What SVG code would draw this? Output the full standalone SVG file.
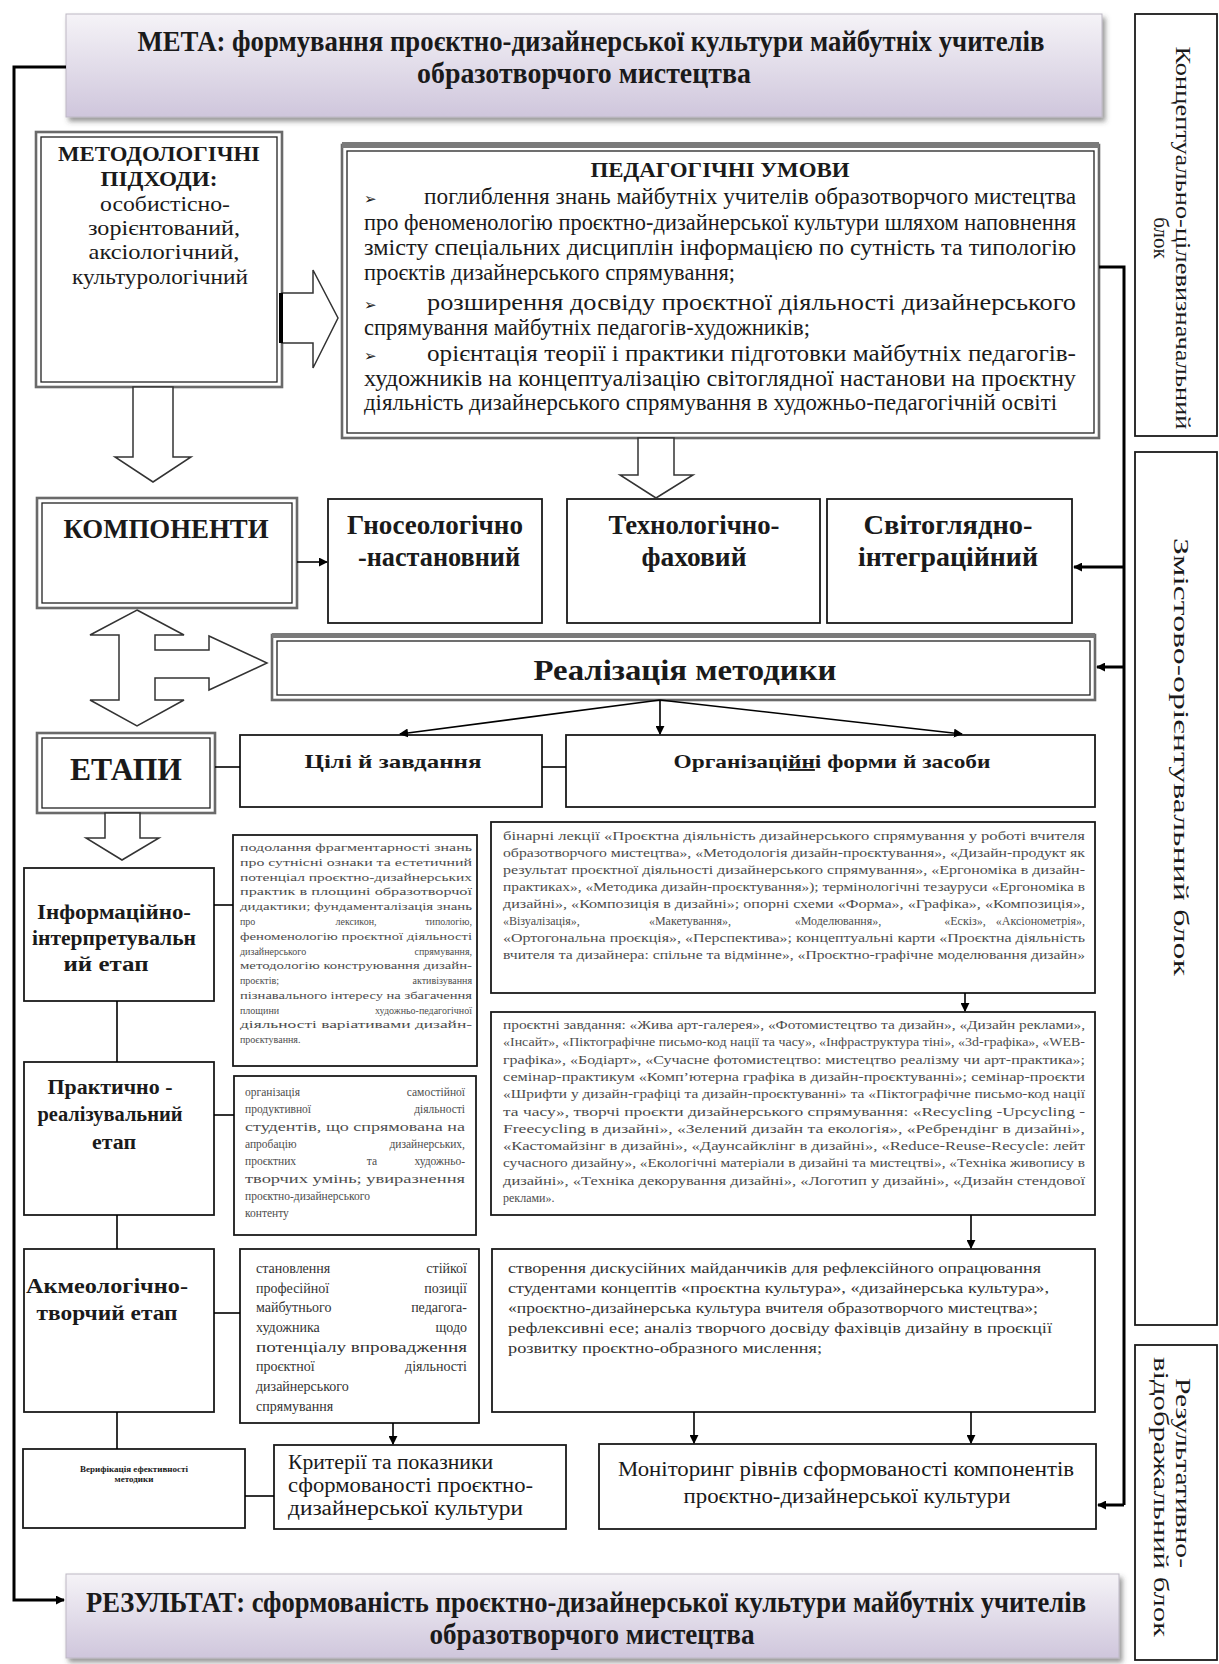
<svg xmlns="http://www.w3.org/2000/svg" width="1219" height="1664" viewBox="0 0 1219 1664">
<defs>
<linearGradient id="lav" x1="0" y1="0" x2="0" y2="1">
<stop offset="0" stop-color="#f5f3f7"/><stop offset="1" stop-color="#cfc6dc"/>
</linearGradient>
<filter id="sh" x="-5%" y="-20%" width="110%" height="150%"><feDropShadow dx="3" dy="4" stdDeviation="2.5" flood-color="#444" flood-opacity="0.55"/></filter>
<marker id="ah" viewBox="0 0 10 10" refX="9" refY="5" markerWidth="9" markerHeight="9" markerUnits="userSpaceOnUse" orient="auto"><path d="M0,0 L10,5 L0,10 z" fill="#000"/></marker>
<style>
text{font-family:"Liberation Serif","Times New Roman",serif;fill:#1a1a1a}
.b{font-weight:bold}
.box{fill:#fff;stroke:#1a1a1a;stroke-width:1.8}
.dbo{fill:#fff;stroke:#6a6a6a;stroke-width:2.6}
.dbi{fill:none;stroke:#222;stroke-width:1.3}
.hol{fill:#fff;stroke:#333;stroke-width:1.5}
.ln{stroke:#000;stroke-width:1.6;fill:none}
.tk{stroke:#000;stroke-width:3;fill:none}
.blk{font-size:21px}
.ped{font-size:23px}
.bul{font-family:"DejaVu Sans",sans-serif;font-size:15px}
.s10{font-size:10px;fill:#4d4d4d}
.s11{font-size:11.5px;fill:#4d4d4d}
.s12{font-size:12px;fill:#4d4d4d}
.s14{font-size:14px;fill:#333}
.st{font-size:20px;font-weight:bold}
.mid{text-anchor:middle}
.end{text-anchor:end}
</style>
</defs>
<rect width="1219" height="1664" fill="#fff"/>

<g id="meta">
<rect x="66" y="14" width="1036" height="103" fill="url(#lav)" stroke="#bdb8c4" stroke-width="1" filter="url(#sh)"/>
<text x="591" y="51" class="b mid" font-size="29" textLength="907" lengthAdjust="spacingAndGlyphs">МЕТА: формування проєктно-дизайнерської культури майбутніх учителів</text>
<text x="584" y="83" class="b mid" font-size="29" textLength="334" lengthAdjust="spacingAndGlyphs">образотворчого мистецтва</text>
</g>

<g id="block-concept">
<rect x="1135" y="14" width="82" height="422" class="box"/>
<text transform="translate(1176,238) rotate(90)" class="blk mid" textLength="383" lengthAdjust="spacingAndGlyphs">Концептуально-цілевизначальний</text>
<text transform="translate(1176,238) rotate(90)" y="22" class="blk mid">блок</text>
</g>
<g id="block-content">
<rect x="1135" y="452" width="82" height="873" class="box"/>
<text transform="translate(1174,757) rotate(90)" class="blk mid" font-size="22" textLength="438" lengthAdjust="spacingAndGlyphs">Змістово-орієнтувальний блок</text>
</g>
<g id="block-result">
<rect x="1135" y="1345" width="82" height="315" class="box"/>
<text transform="translate(1176,1473) rotate(90)" class="blk mid" textLength="190" lengthAdjust="spacingAndGlyphs">Результативно-</text>
<text transform="translate(1176,1497) rotate(90)" y="22" class="blk mid" textLength="280" lengthAdjust="spacingAndGlyphs">відображальний блок</text>
</g>

<g id="methodology">
<rect x="36" y="132" width="246" height="255" class="dbo"/>
<rect x="41" y="137" width="236" height="245" class="dbi"/>
<text x="159" y="161" class="b mid" font-size="22" textLength="202" lengthAdjust="spacingAndGlyphs">МЕТОДОЛОГІЧНІ</text>
<text x="159" y="186" class="b mid" font-size="22" textLength="117" lengthAdjust="spacingAndGlyphs">ПІДХОДИ:</text>
<text x="165" y="211" class="mid" font-size="21" textLength="130" lengthAdjust="spacingAndGlyphs">особистісно-</text>
<text x="164" y="235" class="mid" font-size="21" textLength="152" lengthAdjust="spacingAndGlyphs">зорієнтований,</text>
<text x="164" y="259" class="mid" font-size="21" textLength="151" lengthAdjust="spacingAndGlyphs">аксіологічний,</text>
<text x="160" y="284" class="mid" font-size="21" textLength="176" lengthAdjust="spacingAndGlyphs">культурологічний</text>
</g>

<g id="ped-conditions">
<rect x="342" y="145" width="757" height="293" class="dbo" stroke="#7a7a7a" stroke-width="3"/>
<rect x="342" y="142" width="757" height="6" fill="#7a7a7a"/>
<rect x="347" y="151" width="747" height="282" class="dbi"/>
<text x="720" y="177" class="b mid" font-size="22" textLength="259" lengthAdjust="spacingAndGlyphs">ПЕДАГОГІЧНІ УМОВИ</text>
<text x="364" y="204" class="bul">➢</text>
<text x="424" y="204" class="ped" textLength="652" lengthAdjust="spacingAndGlyphs">поглиблення знань майбутніх учителів образотворчого мистецтва</text>
<text x="364" y="230" class="ped" textLength="712" lengthAdjust="spacingAndGlyphs">про феноменологію проєктно-дизайнерської культури шляхом наповнення</text>
<text x="364" y="255" class="ped" textLength="712" lengthAdjust="spacingAndGlyphs">змісту спеціальних дисциплін інформацією по сутність та типологію</text>
<text x="364" y="280" class="ped" textLength="371" lengthAdjust="spacingAndGlyphs">проєктів дизайнерського спрямування;</text>
<text x="364" y="310" class="bul">➢</text>
<text x="427" y="310" class="ped" textLength="649" lengthAdjust="spacingAndGlyphs">розширення досвіду проєктної діяльності дизайнерського</text>
<text x="364" y="335" class="ped" textLength="446" lengthAdjust="spacingAndGlyphs">спрямування майбутніх педагогів-художників;</text>
<text x="364" y="361" class="bul">➢</text>
<text x="427" y="361" class="ped" textLength="649" lengthAdjust="spacingAndGlyphs">орієнтація теорії і практики підготовки майбутніх педагогів-</text>
<text x="364" y="386" class="ped" textLength="712" lengthAdjust="spacingAndGlyphs">художників на концептуалізацію світоглядної настанови на проєктну</text>
<text x="364" y="410" class="ped" textLength="693" lengthAdjust="spacingAndGlyphs">діяльність дизайнерського спрямування в художньо-педагогічній освіті</text>
</g>

<g id="components">
<rect x="37" y="498" width="260" height="110" class="dbo"/>
<rect x="42" y="503" width="250" height="100" class="dbi"/>
<text x="166" y="538" class="b mid" font-size="28" textLength="205" lengthAdjust="spacingAndGlyphs">КОМПОНЕНТИ</text>
</g>
<g id="comp-gnoseo">
<rect x="328" y="499" width="214" height="124" class="box"/>
<text x="435" y="534" class="b mid" font-size="27" textLength="176" lengthAdjust="spacingAndGlyphs">Гносеологічно</text>
<text x="439" y="566" class="b mid" font-size="27" textLength="162" lengthAdjust="spacingAndGlyphs">-настановний</text>
</g>
<g id="comp-tech">
<rect x="567" y="499" width="253" height="124" class="box"/>
<text x="694" y="534" class="b mid" font-size="27" textLength="171" lengthAdjust="spacingAndGlyphs">Технологічно-</text>
<text x="694" y="566" class="b mid" font-size="27" textLength="105" lengthAdjust="spacingAndGlyphs">фаховий</text>
</g>
<g id="comp-world">
<rect x="827" y="499" width="245" height="124" class="box"/>
<text x="948" y="534" class="b mid" font-size="27" textLength="169" lengthAdjust="spacingAndGlyphs">Світоглядно-</text>
<text x="948" y="566" class="b mid" font-size="27" textLength="180" lengthAdjust="spacingAndGlyphs">інтеграційний</text>
</g>

<g id="realization">
<rect x="272" y="635" width="823" height="65" class="dbo" stroke="#7a7a7a" stroke-width="3"/>
<rect x="272" y="633" width="823" height="5" fill="#7a7a7a"/>
<rect x="277" y="641" width="813" height="54" class="dbi"/>
<text x="685" y="680" class="b mid" font-size="29" textLength="303" lengthAdjust="spacingAndGlyphs">Реалізація методики</text>
</g>

<g id="stages">
<rect x="37" y="733" width="178" height="80" class="dbo"/>
<rect x="42" y="738" width="168" height="70" class="dbi"/>
<text x="126" y="780" class="b mid" font-size="31" textLength="112" lengthAdjust="spacingAndGlyphs">ЕТАПИ</text>
</g>
<g id="goals">
<rect x="240" y="735" width="302" height="72" class="box"/>
<text x="393" y="768" class="b mid" font-size="19" textLength="177" lengthAdjust="spacingAndGlyphs">Цілі й завдання</text>
</g>
<g id="forms">
<rect x="566" y="735" width="529" height="72" class="box"/>
<text x="832" y="768" class="b mid" font-size="19" textLength="317" lengthAdjust="spacingAndGlyphs">Організаці<tspan text-decoration="underline">йн</tspan>і форми й засоби</text>
</g>

<g id="stage-info">
<rect x="24" y="868" width="190" height="133" class="box"/>
<text x="114" y="919" class="st mid" textLength="154" lengthAdjust="spacingAndGlyphs">Інформаційно-</text>
<text x="114" y="945" class="st mid" textLength="164" lengthAdjust="spacingAndGlyphs">інтерпретувальн</text>
<text x="106" y="971" class="st mid" textLength="85" lengthAdjust="spacingAndGlyphs">ий етап</text>
</g>
<g id="info-goals">
<rect x="233" y="835" width="244" height="231" class="box"/>
<text x="240" y="851" class="s10" textLength="232" lengthAdjust="spacingAndGlyphs">подолання фрагментарності знань</text>
<text x="240" y="866" class="s10" textLength="232" lengthAdjust="spacingAndGlyphs">про сутнісні ознаки та естетичний</text>
<text x="240" y="881" class="s10" textLength="232" lengthAdjust="spacingAndGlyphs">потенціал проєктно-дизайнерських</text>
<text x="240" y="895" class="s10" textLength="232" lengthAdjust="spacingAndGlyphs">практик в площині образотворчої</text>
<text x="240" y="910" class="s10" textLength="232" lengthAdjust="spacingAndGlyphs">дидактики; фундаменталізація знань</text>
<text x="240" y="925" class="s10">про</text><text x="356" y="925" class="s10 mid">лексикон,</text><text x="472" y="925" class="s10 end">типологію,</text>
<text x="240" y="940" class="s10" textLength="232" lengthAdjust="spacingAndGlyphs">феноменологію проєктної діяльності</text>
<text x="240" y="955" class="s10">дизайнерського</text><text x="472" y="955" class="s10 end">спрямування,</text>
<text x="240" y="969" class="s10" textLength="232" lengthAdjust="spacingAndGlyphs">методологію конструювання дизайн-</text>
<text x="240" y="984" class="s10">проєктів;</text><text x="472" y="984" class="s10 end">активізування</text>
<text x="240" y="999" class="s10" textLength="232" lengthAdjust="spacingAndGlyphs">пізнавального інтересу на збагачення</text>
<text x="240" y="1014" class="s10">площини</text><text x="472" y="1014" class="s10 end">художньо-педагогічної</text>
<text x="240" y="1028" class="s10" textLength="232" lengthAdjust="spacingAndGlyphs">діяльності варіативами дизайн-</text>
<text x="240" y="1043" class="s10">проєктування.</text>
</g>
<g id="info-forms">
<rect x="491" y="822" width="604" height="171" class="box"/>
<text x="503" y="840" class="s12" textLength="582" lengthAdjust="spacingAndGlyphs">бінарні лекції «Проєктна діяльність дизайнерського спрямування у роботі вчителя</text>
<text x="503" y="857" class="s12" textLength="582" lengthAdjust="spacingAndGlyphs">образотворчого мистецтва», «Методологія дизайн-проєктування», «Дизайн-продукт як</text>
<text x="503" y="874" class="s12" textLength="582" lengthAdjust="spacingAndGlyphs">результат проєктної діяльності дизайнерського спрямування», «Ергономіка в дизайн-</text>
<text x="503" y="891" class="s12" textLength="582" lengthAdjust="spacingAndGlyphs">практиках», «Методика дизайн-проєктування»); термінологічні тезауруси «Ергономіка в</text>
<text x="503" y="908" class="s12" textLength="582" lengthAdjust="spacingAndGlyphs">дизайні», «Композиція в дизайні»; опорні схеми «Форма», «Графіка», «Композиція»,</text>
<text x="503" y="925" class="s12">«Візуалізація»,</text><text x="690" y="925" class="s12 mid">«Макетування»,</text><text x="838" y="925" class="s12 mid">«Моделювання»,</text><text x="965" y="925" class="s12 mid">«Ескіз»,</text><text x="1085" y="925" class="s12 end">«Аксіонометрія»,</text>
<text x="503" y="942" class="s12" textLength="582" lengthAdjust="spacingAndGlyphs">«Ортогональна проєкція», «Перспектива»; концептуальні карти «Проєктна діяльність</text>
<text x="503" y="959" class="s12" textLength="582" lengthAdjust="spacingAndGlyphs">вчителя та дизайнера: спільне та відмінне», «Проєктно-графічне моделювання дизайн»</text>
</g>

<g id="stage-practice">
<rect x="24" y="1062" width="190" height="153" class="box"/>
<text x="110" y="1094" class="st mid" textLength="125" lengthAdjust="spacingAndGlyphs">Практично -</text>
<text x="110" y="1121" class="st mid" textLength="145" lengthAdjust="spacingAndGlyphs">реалізувальний</text>
<text x="114" y="1149" class="st mid" textLength="44" lengthAdjust="spacingAndGlyphs">етап</text>
</g>
<g id="practice-goals">
<rect x="234" y="1076" width="242" height="159" class="box"/>
<text x="245" y="1096" class="s11">організація</text><text x="465" y="1096" class="s11 end">самостійної</text>
<text x="245" y="1113" class="s11">продуктивної</text><text x="465" y="1113" class="s11 end">діяльності</text>
<text x="245" y="1131" class="s11" textLength="220" lengthAdjust="spacingAndGlyphs">студентів, що спрямована на</text>
<text x="245" y="1148" class="s11">апробацію</text><text x="465" y="1148" class="s11 end">дизайнерських,</text>
<text x="245" y="1165" class="s11">проєктних</text><text x="372" y="1165" class="s11 mid">та</text><text x="465" y="1165" class="s11 end">художньо-</text>
<text x="245" y="1183" class="s11" textLength="220" lengthAdjust="spacingAndGlyphs">творчих умінь; увиразнення</text>
<text x="245" y="1200" class="s11">проєктно-дизайнерського</text>
<text x="245" y="1217" class="s11">контенту</text>
</g>
<g id="practice-forms">
<rect x="491" y="1012" width="604" height="203" class="box"/>
<text x="503" y="1029" class="s12" textLength="582" lengthAdjust="spacingAndGlyphs">проєктні завдання: «Жива арт-галерея», «Фотомистецтво та дизайн», «Дизайн реклами»,</text>
<text x="503" y="1046" class="s12" textLength="582" lengthAdjust="spacingAndGlyphs">«Інсайт», «Піктографічне письмо-код нації та часу», «Інфраструктура тіні», «3d-графіка», «WEB-</text>
<text x="503" y="1064" class="s12" textLength="582" lengthAdjust="spacingAndGlyphs">графіка», «Бодіарт», «Сучасне фотомистецтво: мистецтво реалізму чи арт-практика»;</text>
<text x="503" y="1081" class="s12" textLength="582" lengthAdjust="spacingAndGlyphs">семінар-практикум «Комп’ютерна графіка в дизайн-проєктуванні»; семінар-проєкти</text>
<text x="503" y="1098" class="s12" textLength="582" lengthAdjust="spacingAndGlyphs">«Шрифти у дизайн-графіці та дизайн-проєктуванні» та «Піктографічне письмо-код нації</text>
<text x="503" y="1116" class="s12" textLength="582" lengthAdjust="spacingAndGlyphs">та часу»,   творчі проєкти дизайнерського спрямування: «Recycling -Upcycling -</text>
<text x="503" y="1133" class="s12" textLength="582" lengthAdjust="spacingAndGlyphs">Freecycling в дизайні», «Зелений дизайн та екологія», «Ребрендінг в дизайні»,</text>
<text x="503" y="1150" class="s12" textLength="582" lengthAdjust="spacingAndGlyphs">«Кастомайзінг в дизайні», «Даунсайклінг в дизайні», «Reduce-Reuse-Recycle: лейт</text>
<text x="503" y="1167" class="s12" textLength="582" lengthAdjust="spacingAndGlyphs">сучасного дизайну», «Екологічні матеріали в дизайні та мистецтві», «Техніка живопису в</text>
<text x="503" y="1185" class="s12" textLength="582" lengthAdjust="spacingAndGlyphs">дизайні», «Техніка декорування дизайні», «Логотип у дизайні», «Дизайн стендової</text>
<text x="503" y="1202" class="s12">реклами».</text>
</g>

<g id="stage-acme">
<rect x="24" y="1249" width="190" height="163" class="box"/>
<text x="107" y="1293" class="st mid" textLength="162" lengthAdjust="spacingAndGlyphs">Акмеологічно-</text>
<text x="107" y="1320" class="st mid" textLength="141" lengthAdjust="spacingAndGlyphs">творчий етап</text>
</g>
<g id="acme-goals">
<rect x="240" y="1249" width="239" height="174" class="box"/>
<text x="256" y="1273" class="s14">становлення</text><text x="467" y="1273" class="s14 end">стійкої</text>
<text x="256" y="1293" class="s14">професійної</text><text x="467" y="1293" class="s14 end">позиції</text>
<text x="256" y="1312" class="s14">майбутнього</text><text x="467" y="1312" class="s14 end">педагога-</text>
<text x="256" y="1332" class="s14">художника</text><text x="467" y="1332" class="s14 end">щодо</text>
<text x="256" y="1352" class="s14" textLength="211" lengthAdjust="spacingAndGlyphs">потенціалу впровадження</text>
<text x="256" y="1371" class="s14">проєктної</text><text x="467" y="1371" class="s14 end">діяльності</text>
<text x="256" y="1391" class="s14">дизайнерського</text>
<text x="256" y="1411" class="s14">спрямування</text>
</g>
<g id="acme-forms">
<rect x="492" y="1249" width="603" height="163" class="box"/>
<text x="508" y="1273" class="s14" textLength="533" lengthAdjust="spacingAndGlyphs">створення дискусійних майданчиків для рефлексійного опрацювання</text>
<text x="508" y="1293" class="s14" textLength="541" lengthAdjust="spacingAndGlyphs">студентами концептів «проєктна культура», «дизайнерська культура»,</text>
<text x="508" y="1313" class="s14" textLength="530" lengthAdjust="spacingAndGlyphs">«проєктно-дизайнерська культура вчителя образотворчого мистецтва»;</text>
<text x="508" y="1333" class="s14" textLength="544" lengthAdjust="spacingAndGlyphs">рефлексивні есе; аналіз творчого досвіду фахівців дизайну в проєкції</text>
<text x="508" y="1353" class="s14" textLength="314" lengthAdjust="spacingAndGlyphs">розвитку проєктно-образного мислення;</text>
</g>

<g id="verification">
<rect x="23" y="1449" width="222" height="79" class="box"/>
<text x="134" y="1472" class="b mid" font-size="9">Верифікація ефективності</text>
<text x="134" y="1482" class="b mid" font-size="9">методики</text>
</g>
<g id="criteria">
<rect x="274" y="1445" width="292" height="84" class="box"/>
<text x="288" y="1469" font-size="20" textLength="205" lengthAdjust="spacingAndGlyphs">Критерії та показники</text>
<text x="288" y="1492" font-size="20" textLength="245" lengthAdjust="spacingAndGlyphs">сформованості проєктно-</text>
<text x="288" y="1515" font-size="20" textLength="235" lengthAdjust="spacingAndGlyphs">дизайнерської культури</text>
</g>
<g id="monitoring">
<rect x="599" y="1444" width="497" height="85" class="box"/>
<text x="846" y="1476" class="mid" font-size="20" textLength="456" lengthAdjust="spacingAndGlyphs">Моніторинг рівнів сформованості компонентів</text>
<text x="847" y="1503" class="mid" font-size="20" textLength="327" lengthAdjust="spacingAndGlyphs">проєктно-дизайнерської культури</text>
</g>

<g id="result">
<rect x="66" y="1574" width="1053" height="84" fill="url(#lav)" stroke="#bdb8c4" stroke-width="1" filter="url(#sh)"/>
<text x="586" y="1612" class="b mid" font-size="29" textLength="1000" lengthAdjust="spacingAndGlyphs">РЕЗУЛЬТАТ: сформованість проєктно-дизайнерської культури майбутніх учителів</text>
<text x="592" y="1644" class="b mid" font-size="29" textLength="325" lengthAdjust="spacingAndGlyphs">образотворчого мистецтва</text>
</g>

<g id="connectors">
<path d="M66,67 H14 V1600 H64" class="tk" marker-end="url(#ah)"/>
<path d="M1099,267 H1124 V1505" class="tk"/>
<line x1="1124" y1="567" x2="1074" y2="567" class="tk" marker-end="url(#ah)"/>
<line x1="1124" y1="667" x2="1097" y2="667" class="tk" marker-end="url(#ah)"/>
<line x1="1124" y1="1505" x2="1098" y2="1505" class="tk" marker-end="url(#ah)"/>
<polygon points="282,293 313,293 313,270 338,318 313,368 313,343 282,343" class="hol"/>
<rect x="279" y="293" width="4" height="50" fill="#000"/>
<polygon points="133,387 173,387 173,457 191,457 153,482 115,457 133,457" class="hol"/>
<polygon points="638,438 674,438 674,475 693,475 656,498 620,475 638,475" class="hol"/>
<line x1="297" y1="562" x2="327" y2="562" class="ln" marker-end="url(#ah)"/>
<polygon points="137,610 184,635 155,635 155,650 209,650 209,636 267,663 209,690 209,678 155,678 155,700 184,700 137,726 90,700 119,700 119,635 90,635" class="hol"/>
<line x1="660" y1="700" x2="400" y2="734" class="ln" marker-end="url(#ah)"/>
<line x1="660" y1="700" x2="660" y2="734" class="ln" marker-end="url(#ah)"/>
<line x1="660" y1="700" x2="962" y2="734" class="ln" marker-end="url(#ah)"/>
<line x1="215" y1="767" x2="240" y2="767" class="ln"/>
<line x1="542" y1="767" x2="566" y2="767" class="ln"/>
<polygon points="105,813 140,813 140,838 159,838 122,860 86,838 105,838" class="hol"/>
<line x1="214" y1="905" x2="233" y2="905" class="ln"/>
<line x1="117" y1="1001" x2="117" y2="1062" class="ln"/>
<line x1="965" y1="993" x2="965" y2="1011" class="ln" marker-end="url(#ah)"/>
<line x1="214" y1="1115" x2="234" y2="1115" class="ln"/>
<line x1="117" y1="1215" x2="117" y2="1249" class="ln"/>
<line x1="971" y1="1215" x2="971" y2="1248" class="ln" marker-end="url(#ah)"/>
<line x1="214" y1="1313" x2="240" y2="1313" class="ln"/>
<line x1="117" y1="1412" x2="117" y2="1449" class="ln"/>
<line x1="393" y1="1423" x2="393" y2="1444" class="ln" marker-end="url(#ah)"/>
<line x1="694" y1="1412" x2="694" y2="1443" class="ln" marker-end="url(#ah)"/>
<line x1="971" y1="1412" x2="971" y2="1443" class="ln" marker-end="url(#ah)"/>
<line x1="245" y1="1496" x2="274" y2="1496" class="ln"/>
</g>
</svg>
